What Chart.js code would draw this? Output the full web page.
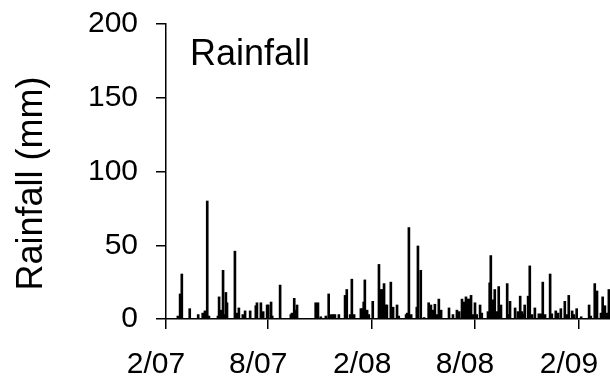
<!DOCTYPE html>
<html>
<head>
<meta charset="utf-8">
<style>
  html, body { margin: 0; padding: 0; background: #fff; }
  #wrap { width: 610px; height: 379px; }
</style>
<script src="https://cdn.jsdelivr.net/npm/chart.js@4"></script>
</head>
<body>
<div id="wrap"><canvas id="c" width="610" height="379"></canvas></div>
<script>
// Daily rainfall, days counted from 1 Feb 2007 (only days with rain are listed)
const rainDays = [
  21, 25, 28, 42, 57, 65, 69, 73, 76, 92, 94, 97, 101, 103, 106, 108, 122, 126, 129, 136,
  140, 149, 159, 161, 168, 172, 179, 181, 186, 188, 202, 221, 223, 227, 228, 232,
  265, 269, 274, 283, 288, 292, 296, 299, 306, 317, 320, 326, 329, 333, 345, 347, 350, 352,
  356, 359, 366, 377, 381, 384, 386, 389, 391, 398, 402, 409, 412, 425, 427, 430, 434,
  444, 446, 451, 457, 465, 469, 473, 476, 480, 483, 487, 501, 508, 515, 519, 524, 527,
  531, 535, 536, 540, 543, 547, 550, 556, 559, 570, 573, 575, 579, 582, 586, 589, 593,
  604, 607, 609, 618, 623, 627, 630, 634, 635, 641, 644, 648, 653, 660, 664, 667, 671,
  680, 683, 690, 694, 699, 706, 710, 713, 719, 722, 727, 735, 749, 752, 759, 763, 770,
  773, 777, 781, 784
];
const rainMm = [
  2, 17, 30.5, 7, 3, 4, 5.5, 80, 2, 2, 15, 6, 33, 3, 18, 11, 46, 4, 7.5, 3,
  5.5, 5.5, 9, 11, 11, 5, 9.5, 9.5, 11.5, 2, 23, 3, 4, 14, 6, 9.5,
  11, 11, 1.5, 2, 17, 3, 3, 3, 3, 16, 20, 3, 27, 3, 7, 7, 11.5, 26.5,
  6, 3, 12, 37, 20, 20, 24, 9.5, 9.5, 25, 8, 9.5, 2, 3, 4, 62, 3,
  8, 49.5, 33, 1, 11, 9.5, 6, 10, 3, 13.5, 6, 7.5, 3, 6, 5, 13.5, 11.5,
  15, 13.5, 13.5, 16, 3, 11, 3, 9.5, 4, 5, 24.5, 43, 13, 20, 5, 22, 9.5,
  24, 3, 12, 7.5, 5, 15.5, 5, 3.5, 9.5, 15.5, 36, 3, 7.5, 3.5, 3.5, 25, 3,
  30.5, 3.5, 5.5, 4, 7, 12, 3, 16, 5.5, 3, 7, 1.5, 9.5, 2, 24, 19, 4,
  15, 9, 4, 20
];

// Axis ticks
const xTickDays = [0, 181, 365, 547, 731];
const xTickLabels = ['2/07', '8/07', '2/08', '8/08', '2/09'];
const yTicks = [0, 50, 100, 150, 200];

const FONT = "'Liberation Sans', Arial, Helvetica, sans-serif";

const textPlugin = {
  id: 'chartTexts',
  afterDraw(chart) {
    const ctx = chart.ctx;
    ctx.save();
    ctx.fillStyle = '#000';
    ctx.font = '36px ' + FONT;
    ctx.textAlign = 'left';
    ctx.textBaseline = 'alphabetic';
    ctx.fillText('Rainfall', 190, 65);
    ctx.translate(42, 183.5);
    ctx.rotate(-Math.PI / 2);
    ctx.textAlign = 'center';
    ctx.fillText('Rainfall (mm)', 0, 0);
    ctx.restore();
  }
};

new Chart(document.getElementById('c'), {
  type: 'bar',
  data: {
    datasets: [{
      data: rainDays.map((d, i) => ({ x: d, y: rainMm[i] })),
      backgroundColor: '#000',
      borderWidth: 0,
      barThickness: 2,
      grouped: false
    }]
  },
  options: {
    responsive: false,
    animation: false,
    events: [],
    layout: { padding: { left: 0, right: 0, top: 24, bottom: 0 } },
    plugins: { legend: { display: false }, tooltip: { enabled: false }, title: { display: false } },
    scales: {
      x: {
        type: 'linear',
        min: 0,
        max: 786,
        offset: false,
        afterBuildTicks(scale) { scale.ticks = xTickDays.map(v => ({ value: v })); },
        afterFit(scale) { scale.height = 60; scale.paddingLeft = 0; scale.paddingRight = 0; },
        ticks: {
          autoSkip: false,
          maxRotation: 0,
          color: '#000',
          font: { family: FONT, size: 30 },
          padding: 18,
          labelOffset: -10,
          callback: (v, i) => xTickLabels[i]
        },
        grid: { display: true, offset: false, drawOnChartArea: false, drawTicks: true, tickLength: 10, color: '#000', lineWidth: 1.5 },
        border: { display: true, color: '#000', width: 1.5 }
      },
      y: {
        min: 0,
        max: 200,
        afterBuildTicks(scale) { scale.ticks = yTicks.map(v => ({ value: v })); },
        afterFit(scale) { scale.width = 166; scale.paddingTop = 0; scale.paddingBottom = 0; },
        ticks: {
          color: '#000',
          font: { family: FONT, size: 30 },
          padding: 18
        },
        grid: { display: true, offset: false, drawOnChartArea: false, drawTicks: true, tickLength: 10, color: '#000', lineWidth: 1.5 },
        border: { display: true, color: '#000', width: 1.5 }
      }
    }
  },
  plugins: [textPlugin]
});
</script>
</body>
</html>
